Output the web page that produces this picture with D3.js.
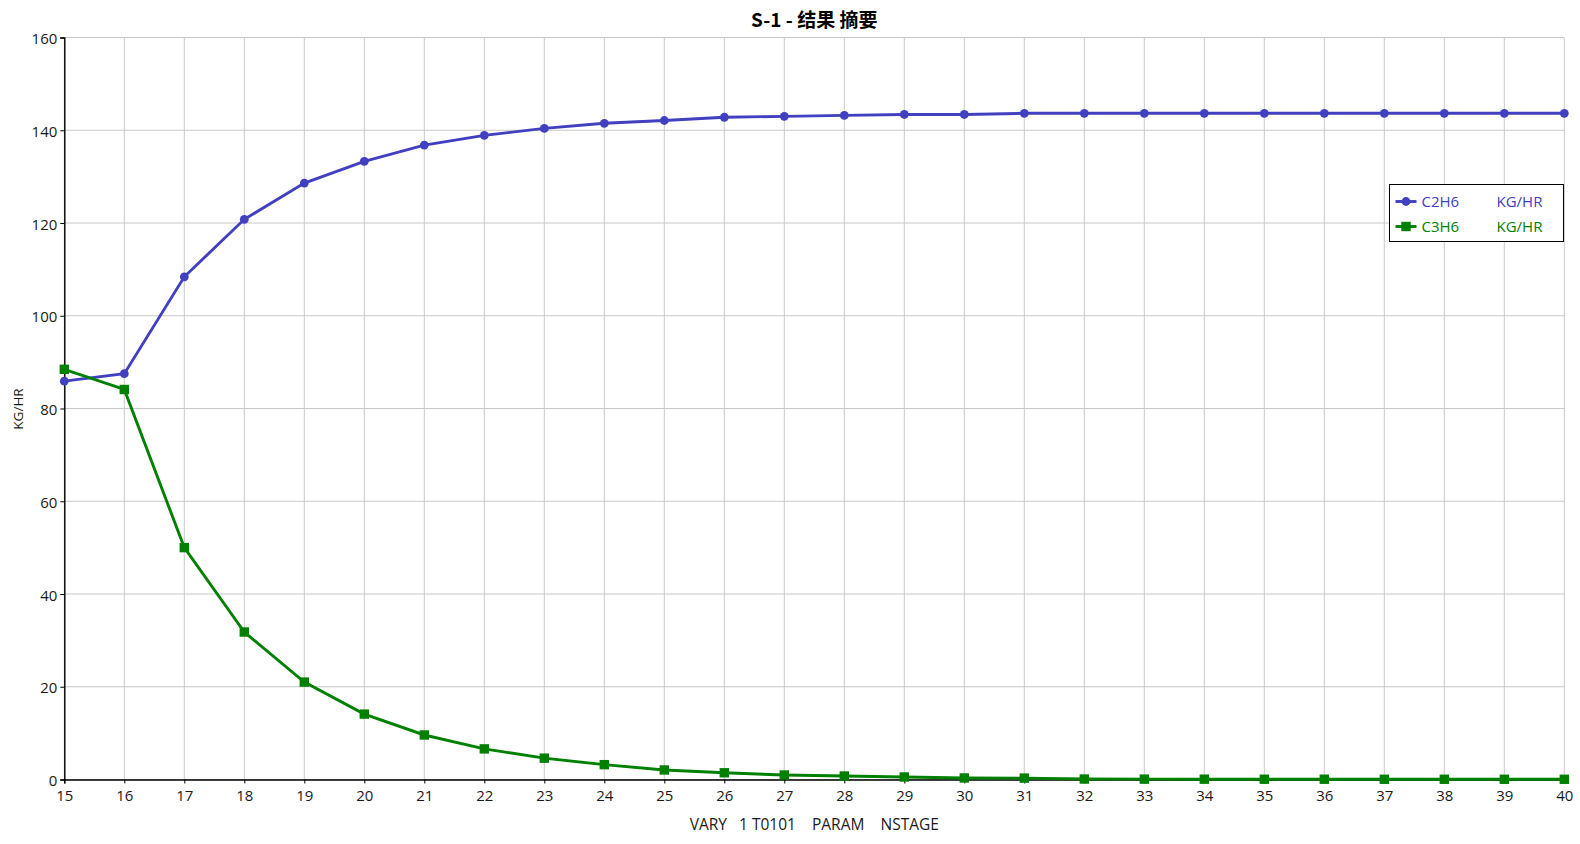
<!DOCTYPE html>
<html>
<head>
<meta charset="utf-8">
<script src="https://cdn.jsdelivr.net/npm/d3@7"></script>
<style>
  body { margin: 0; background: #fff; }
  text { font-family: "Open Sans", "Noto Sans", sans-serif; }
</style>
</head>
<body>
<script>
// data
var stages = [15, 16, 17, 18, 19, 20, 21, 22, 23, 24, 25, 26, 27, 28, 29, 30, 31, 32, 33, 34, 35, 36, 37, 38, 39, 40];
var c2h6 = [85.9, 87.5, 108.4, 120.8, 128.6, 133.3, 136.8, 138.9, 140.4, 141.5, 142.1, 142.8, 143.0, 143.2, 143.4, 143.4, 143.65, 143.65, 143.65, 143.65, 143.65, 143.65, 143.65, 143.65, 143.65, 143.65];
var c3h6 = [88.45, 84.1, 50.0, 31.8, 21.0, 14.1, 9.6, 6.6, 4.6, 3.2, 2.05, 1.45, 0.97, 0.75, 0.54, 0.33, 0.3, 0.1, 0.08, 0.07, 0.06, 0.06, 0.05, 0.05, 0.05, 0.05];
var yTicks = [0, 20, 40, 60, 80, 100, 120, 140, 160];
var seriesNames = ["C2H6", "C3H6"];
var seriesUnits = ["KG/HR", "KG/HR"];

var width = 1580, height = 844;
var margin = { left: 64.3, right: 1580 - 1564.3, top: 37.5, bottom: 844 - 779.5 };

var svg = d3.select("body").append("svg")
  .attr("width", width)
  .attr("height", height);

var x = d3.scaleLinear().domain([15, 40]).range([margin.left, width - margin.right]);
var y = d3.scaleLinear().domain([0, 160]).range([height - margin.bottom, margin.top]);

// grid
svg.append("g")
  .selectAll("line.vg")
  .data(stages)
  .enter().append("line")
  .attr("x1", function (d) { return x(d); })
  .attr("x2", function (d) { return x(d); })
  .attr("y1", y(0)).attr("y2", y(160))
  .attr("stroke", "#c8c8c8").attr("stroke-width", 1);

svg.append("g")
  .selectAll("line.hg")
  .data(yTicks)
  .enter().append("line")
  .attr("x1", x(15)).attr("x2", x(40))
  .attr("y1", function (d) { return y(d); })
  .attr("y2", function (d) { return y(d); })
  .attr("stroke", "#c8c8c8").attr("stroke-width", 1);

// axes
var xAxis = svg.append("g")
  .attr("transform", "translate(0," + y(0) + ")")
  .call(d3.axisBottom(x).tickValues(stages).tickFormat(d3.format("d")).tickSize(4).tickPadding(7));
var yAxis = svg.append("g")
  .attr("transform", "translate(" + x(15) + ",0)")
  .call(d3.axisLeft(y).tickValues(yTicks).tickSize(4).tickPadding(3));

[xAxis, yAxis].forEach(function (a) {
  a.select(".domain").attr("stroke", "#000").attr("stroke-width", 1.4);
  a.selectAll(".tick line").attr("stroke", "#000");
  a.selectAll(".tick text")
    .attr("fill", "#1a1a1a")
    .style("font-size", "15px")
    .style("font-family", "'Open Sans', 'Noto Sans', sans-serif");
});
yAxis.selectAll(".tick text").attr("dy", "0.4em");

// lines
var colors = ["#4040c0", "#008000"];
var allSeries = [c2h6, c3h6];

var line = d3.line()
  .x(function (d, i) { return x(stages[i]); })
  .y(function (d) { return y(d); });

allSeries.forEach(function (s, k) {
  svg.append("path")
    .datum(s)
    .attr("fill", "none")
    .attr("stroke", colors[k])
    .attr("stroke-width", 2.9)
    .attr("d", line);
});

// markers
svg.append("g").selectAll("circle")
  .data(c2h6)
  .enter().append("circle")
  .attr("cx", function (d, i) { return x(stages[i]); })
  .attr("cy", function (d) { return y(d); })
  .attr("r", 4.4)
  .attr("fill", colors[0]);

svg.append("g").selectAll("rect")
  .data(c3h6)
  .enter().append("rect")
  .attr("x", function (d, i) { return x(stages[i]) - 4.7; })
  .attr("y", function (d) { return y(d) - 4.7; })
  .attr("width", 9.4).attr("height", 9.4)
  .attr("fill", colors[1]);

// title
svg.append("text")
  .attr("x", (x(15) + x(40)) / 2)
  .attr("y", 27)
  .attr("text-anchor", "middle")
  .style("font-family", "'Noto Sans CJK SC', 'Open Sans', sans-serif")
  .style("font-size", "19px")
  .style("font-weight", "bold")
  .attr("fill", "#000")
  .text("S-1 - 结果 摘要");

// axis titles
svg.append("text")
  .attr("x", (x(15) + x(40)) / 2)
  .attr("y", 830)
  .attr("text-anchor", "middle")
  .attr("xml:space", "preserve")
  .style("white-space", "pre")
  .style("font-size", "15.5px")
  .attr("fill", "#1a1a1a")
  .text("VARY   1 T0101    PARAM    NSTAGE");

svg.append("text")
  .attr("transform", "translate(23,409) rotate(-90)")
  .attr("text-anchor", "middle")
  .style("font-size", "13.5px")
  .attr("fill", "#1a1a1a")
  .text("KG/HR");

// legend
var legend = svg.append("g").attr("transform", "translate(1389.5,184.5)");
legend.append("rect")
  .attr("width", 174).attr("height", 57)
  .attr("fill", "#fff")
  .attr("stroke", "#000").attr("stroke-width", 1);

seriesNames.forEach(function (name, k) {
  var g = legend.append("g").attr("transform", "translate(0," + (17 + k * 25) + ")");
  g.append("line")
    .attr("x1", 6).attr("x2", 27).attr("y1", 0).attr("y2", 0)
    .attr("stroke", colors[k]).attr("stroke-width", 2.9);
  if (k === 0) {
    g.append("circle").attr("cx", 16.5).attr("cy", 0).attr("r", 4.4).attr("fill", colors[k]);
  } else {
    g.append("rect").attr("x", 11.8).attr("y", -4.7).attr("width", 9.4).attr("height", 9.4).attr("fill", colors[k]);
  }
  g.append("text")
    .attr("x", 32).attr("y", 5.5)
    .style("font-size", "15px")
    .attr("fill", colors[k])
    .text(name);
  g.append("text")
    .attr("x", 107).attr("y", 5.5)
    .style("font-size", "15px")
    .attr("fill", colors[k])
    .text(seriesUnits[k]);
});
</script>
</body>
</html>
